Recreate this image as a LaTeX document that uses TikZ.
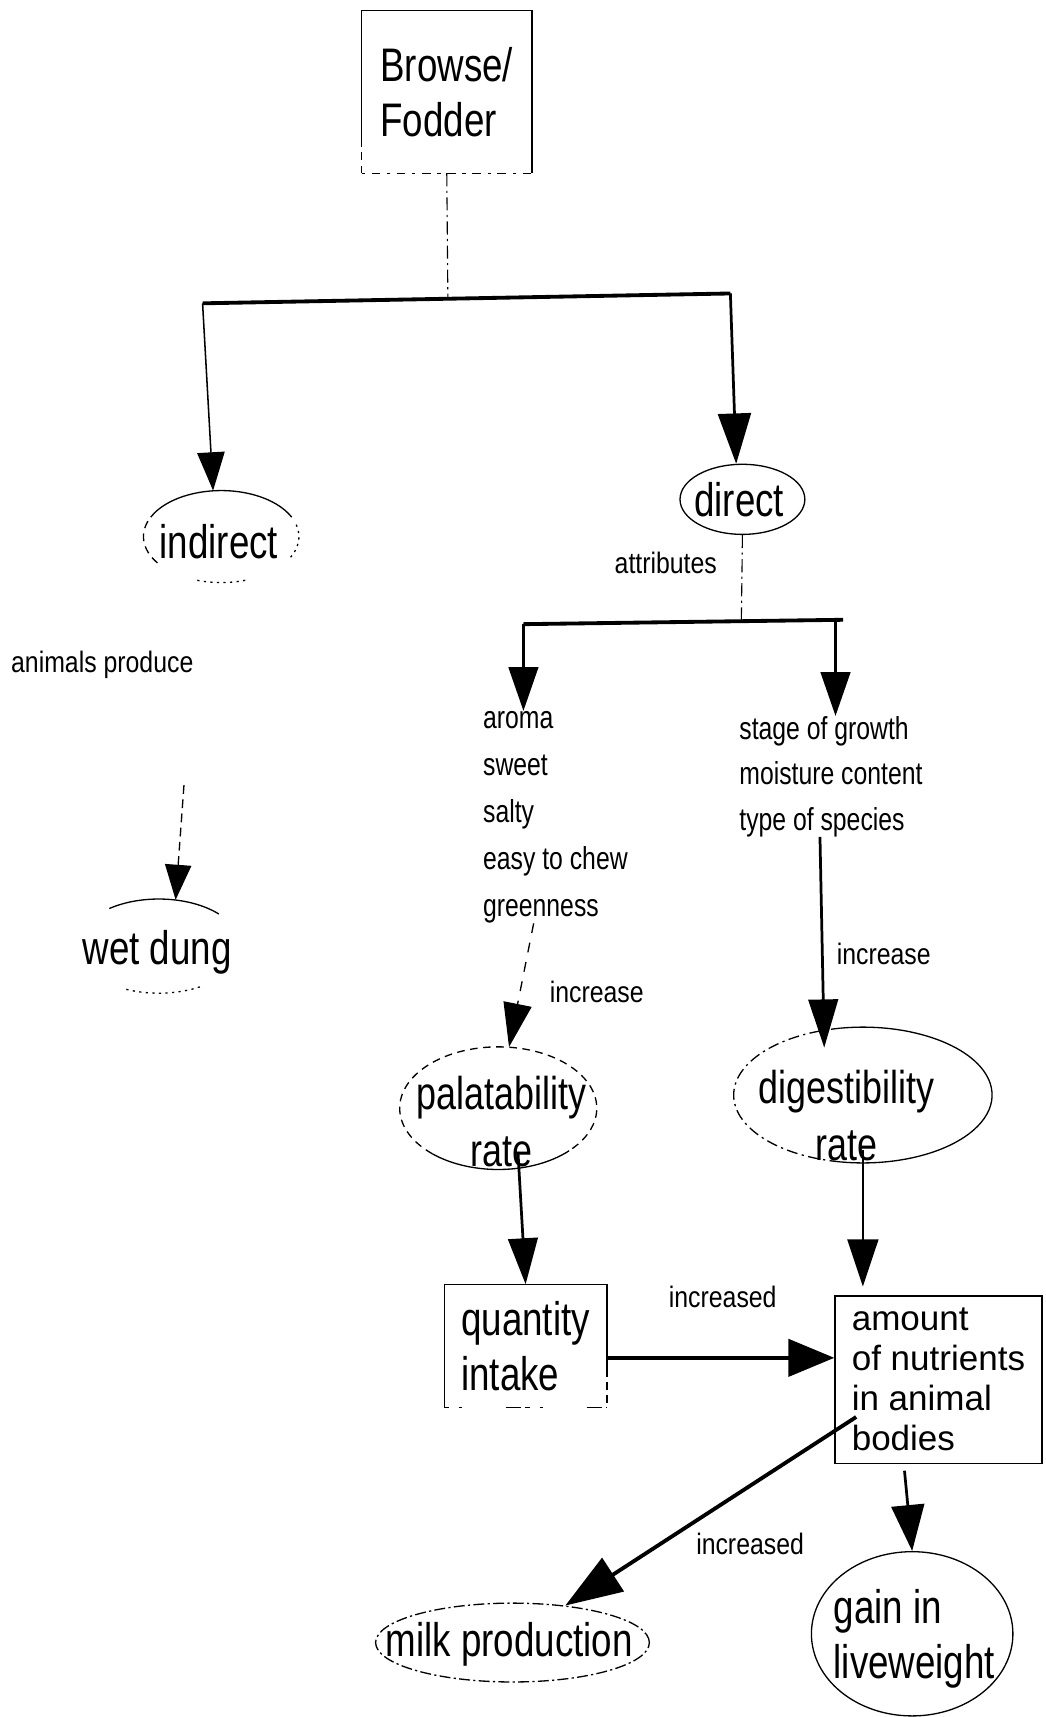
\documentclass[tikz,border=0pt]{standalone}
\usepackage{fontspec}
\setmainfont{Liberation Sans}
\newfontfamily\narrowfont{Liberation Sans}[FakeStretch=0.78]
\newfontfamily\labelfont{Liberation Sans}[FakeStretch=0.84]
\usetikzlibrary{arrows.meta,shapes.geometric,calc}

% text inside an oval: column spec, doubled horizontal offset, raise of first baseline, lines
\newcommand\inoval[4]{\raisebox{#3}[0pt][0pt]{\makebox[0pt]{\hspace*{#2}\begin{tabular}[t]{@{}#1@{}}#4\end{tabular}}}}

\begin{document}
\begin{tikzpicture}[x=1pt,y=-1pt,
  big/.style={font=\narrowfont\fontsize{43}{50}\selectfont},
  bigwide/.style={font=\narrowfont\fontsize{42}{52}\selectfont},
  listtext/.style={font=\narrowfont\fontsize{29}{43}\selectfont},
  listtextR/.style={font=\narrowfont\fontsize{29}{41.5}\selectfont},
  lab/.style={font=\labelfont\fontsize{27}{30}\selectfont, inner sep=0pt},
  boxtext/.style={font=\fontsize{32}{36.5}\selectfont},
  oval/.style={ellipse, inner sep=-40pt},
  card/.style={rectangle, inner sep=0pt},
  rim/.style={line width=1.2pt},
  fine/.style={line width=1.4pt},
  mid/.style={line width=2.5pt},
  heavy/.style={line width=3.5pt},
  tipped/.style 2 args={-{Triangle[length=#1,width=#2]}},
  dashdot/.style={line width=1pt, dash pattern=on 12pt off 4pt on 2pt off 4pt},
  brokenA/.style={line width=1.2pt, dash pattern=on 8pt off 5pt},
  brokenB/.style={line width=1.2pt, dash pattern=on 9pt off 9pt},
  rimdash/.style={rim, dash pattern=on 7pt off 5pt},
  rimdot/.style={rim, dash pattern=on 2pt off 4pt},
  rimdashdot/.style={rim, dash pattern=on 10pt off 4pt on 2pt off 4pt},
]
\useasboundingbox[fill=white] (0,0) rectangle (955,1568);

% ---- top box and first split ----
\node[card, big, align=left, minimum width=155, minimum height=148] (browse) at (408,84) {Browse/\\Fodder};
\draw[rim] ($(browse.south west)+(0,-30)$) -- (browse.north west) -- (browse.north east) -- (browse.south east);
\draw[rimdash] (browse.south west) -- ($(browse.south west)+(0,-30)$);
\draw[rim, dash pattern=on 3pt off 6pt on 8pt off 6pt] (browse.south west) -- (browse.south east);

\coordinate (bl) at (185,277);
\coordinate (br) at (667,268);
\coordinate (j1) at (409,272);
\draw[dashdot] (browse.south) -- (j1);
\draw[heavy] (bl) -- (br);

% ---- indirect branch ----
\node[oval, big, minimum width=142, minimum height=84] (indirect) at (202,490) {\inoval{c}{-4pt}{-20pt}{indirect}};
\draw[rim] (indirect.center) ++(205:71 and 42) arc[start angle=205, end angle=335, x radius=71, y radius=42];
\draw[rimdash] (indirect.center) ++(145:71 and 42) arc[start angle=145, end angle=205, x radius=71, y radius=42];
\draw[rimdot] (indirect.center) ++(345:71 and 42) arc[start angle=345, end angle=390, x radius=71, y radius=42];
\draw[rimdot] (indirect.center) ++(72:71 and 42) arc[start angle=72, end angle=108, x radius=71, y radius=42];
\draw[fine, tipped={35pt}{25pt}] (bl) -- (indirect.100);

\node[lab, anchor=west] (animals) at (10,607) {animals produce};
\coordinate (dungsrc) at (168,717);
\node[oval, big, minimum width=150, minimum height=86] (dung) at (145,864) {\inoval{c}{-3pt}{-17pt}{wet dung}};
\draw[rim] (dung.center) ++(233:75 and 43) arc[start angle=233, end angle=317, x radius=75, y radius=43];
\draw[rimdot] (dung.center) ++(60:75 and 43) arc[start angle=60, end angle=115, x radius=75, y radius=43];
\draw[brokenA, tipped={32pt}{24pt}] (dungsrc) -- (dung.70);

% ---- direct branch ----
\node[oval, big, draw, rim, minimum width=114, minimum height=64] (direct) at (678,456) {\inoval{c}{-6pt}{-16pt}{direct}};
\draw[mid, tipped={46pt}{30pt}] (br) -- (direct.100);
\node[lab] (attr) at (608,514) {attributes};

\coordinate (j2) at (677,568);
\coordinate (al) at (478,570);
\coordinate (ar) at (770,566);
\coordinate (arr) at (763,567);
\draw[dashdot] (direct.south) -- (j2);
\draw[heavy] (al) -- (ar);

% the base anchor of these blocks sits on their last line
\node[listtext, align=left, anchor=base west, inner sep=0pt] (attrsL) at (441,837) {aroma\\sweet\\salty\\easy to chew\\greenness};
\node[listtextR, align=left, anchor=base west, inner sep=0pt] (attrsR) at (675,758) {stage of growth\\moisture content\\type of species};
\draw[mid, tipped={40pt}{27pt}] (al) -- (al |- attrsL.north);
\draw[mid, tipped={40pt}{27pt}] (arr) -- (arr |- attrsR.north);

% ---- rates ----
\node[oval, bigwide, minimum width=180, minimum height=112] (palat) at (455,1012) {\inoval{c}{6pt}{-1pt}{palatability\\rate}};
\draw[rim] (palat.center) ++(44:90 and 56) arc[start angle=44, end angle=132, x radius=90, y radius=56];
\draw[rimdash] (palat.center) ++(132:90 and 56) arc[start angle=132, end angle=404, x radius=90, y radius=56];

\node[oval, bigwide, minimum width=236, minimum height=124] (digest) at (788,1000) {\inoval{c}{-30pt}{-8pt}{digestibility\\rate}};
\draw[rim] (digest.center) ++(260:118 and 62) arc[start angle=260, end angle=460, x radius=118, y radius=62];
\draw[rimdashdot] (digest.center) ++(100:118 and 62) arc[start angle=100, end angle=260, x radius=118, y radius=62];

\draw[brokenB, tipped={40pt}{26pt}] ($(attrsL.south west)!0.35!(attrsL.south east)$) -- (palat.80);
\node[lab] (incA) at (545,906) {increase};
\draw[mid, tipped={44pt}{27pt}, shorten >=-16pt] ($(attrsR.south)+(-10,0)$) -- (digest.121);
\node[lab] (incB) at (807,871) {increase};

% ---- intake and nutrients ----
\node[card, big, align=left, minimum width=148, minimum height=112] (quantity) at (480,1229) {quantity\\intake};
\draw[rim] ($(quantity.south east)+(0,-35)$) -- (quantity.north east) -- (quantity.north west) -- (quantity.south west);
\draw[rimdash] ($(quantity.south east)+(0,-35)$) -- (quantity.south east);
\draw[rim, dash pattern=on 4pt off 9pt on 3pt off 40pt on 14pt off 4pt] (quantity.south west) -- (quantity.south east);

\node[card, boxtext, draw, rim, align=left, minimum width=189, minimum height=153] (amount) at (857,1260) {amount\\of nutrients\\in animal\\bodies};

\draw[mid, tipped={42pt}{27pt}] ($(palat.center)+(18,40)$) -- (quantity.north);
\draw[mid, tipped={43pt}{28pt}, shorten >=8pt] ($(digest.center)+(0,50)$) -- (digest.center |- amount.north);

\coordinate (qout) at ($(quantity.east)+(0,11)$);
\draw[heavy, tipped={42pt}{34pt}] (qout) -- (qout -| amount.west);
\node[lab] (incC) at (660,1184) {increased};

% ---- outcomes ----
\node[oval, big, draw, rim, dash pattern=on 10pt off 3pt on 2pt off 3pt, minimum width=250, minimum height=72] (milk) at (468,1500) {\inoval{c}{-6pt}{-13pt}{milk production}};
\node[oval, big, draw, rim, minimum width=184, minimum height=150] (gain) at (833,1492) {\inoval{l}{4pt}{9pt}{gain in\\liveweight}};

\draw[heavy, tipped={52pt}{36pt}] ($(amount.west)+(20,34)$) -- (milk.35);
\node[lab] (incD) at (685,1410) {increased};
\draw[mid, tipped={42pt}{30pt}] ($(amount.south)+(-31,6)$) -- (gain.north);

\end{tikzpicture}
\end{document}
